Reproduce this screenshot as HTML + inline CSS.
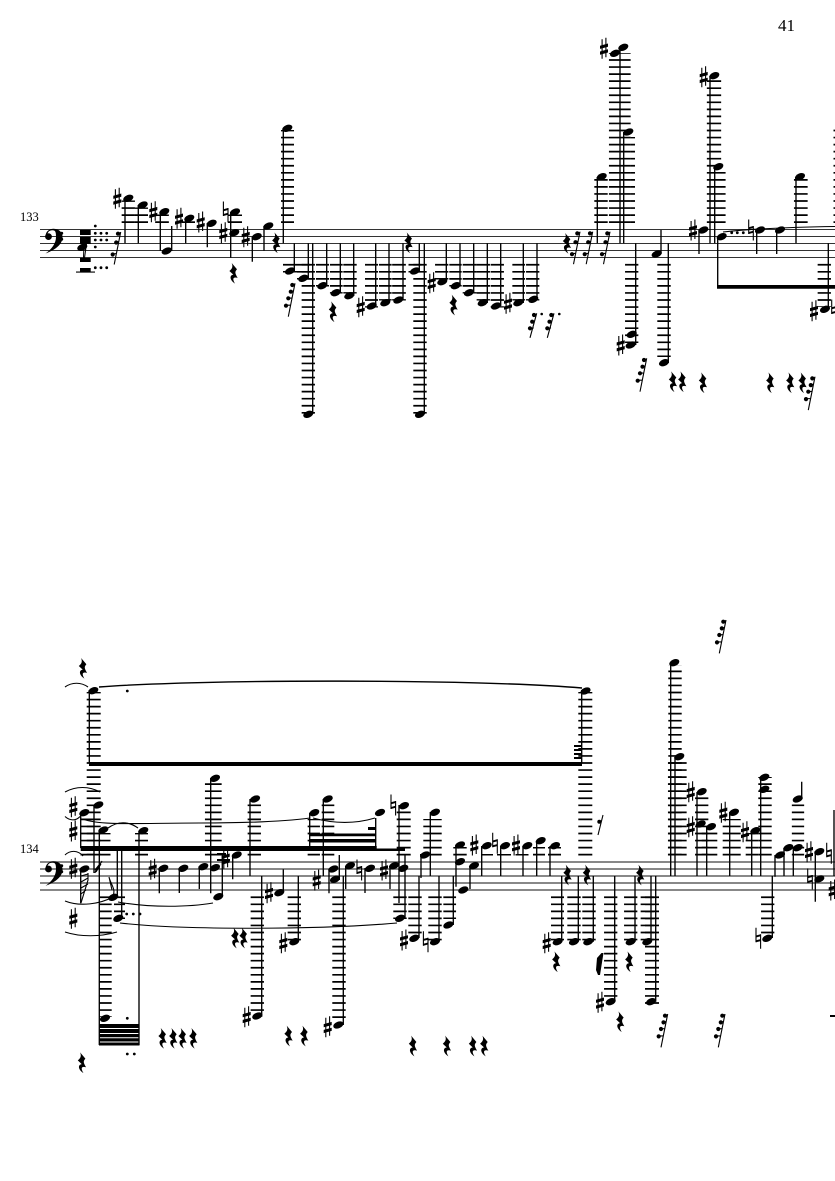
<!DOCTYPE html>
<html><head><meta charset="utf-8"><style>
html,body{margin:0;padding:0;background:#fff}
svg{display:block}
text{font-family:"Liberation Serif",serif;fill:#000}
</style></head><body>
<svg width="835" height="1181" viewBox="0 0 835 1181" xmlns="http://www.w3.org/2000/svg">
<defs>
<ellipse id="n" rx="5.3" ry="3.3" transform="rotate(-22)"/>
<g id="s"><path d="M-1.9-9V10.5M1.9-10.5V9" stroke="#000" stroke-width="1.1" fill="none"/><path d="M-4-2.6L4-4.8V-1.6L-4 .6ZM-4 3.2L4 1V4.2L-4 6.4Z"/></g>
<g id="t"><path d="M-2.3-10.5V4M2.3-4V10.5" stroke="#000" stroke-width="1.1" fill="none"/><path d="M-2.3-2.8L2.3-4V-2L-2.3-.8ZM-2.3 2L2.3.8V2.8L-2.3 4Z"/></g>
<path id="r" transform="scale(1.15)" d="M-1.4-9L3.2-3.5C1.5-1.5 1-.5 3.8 4C.5 3-1.5 4 1.5 9C-2.6 6.5-4 2 0 1.2L-3.4-2C-.8-4-.2-6-1.4-9Z"/>
<g id="r4"><path d="M0 0L-6.7 33.4M-2.7 1L-.3.8M-4 8L-1.7 7.6M-6.7 15L-3 14.6M-9 22L-4.5 21.8" stroke="#000" stroke-width="1.1" fill="none"/><circle cx="-2.7" cy="1.7" r="2.1"/><circle cx="-4.2" cy="8.4" r="2.1"/><circle cx="-6.7" cy="15" r="2.1"/><circle cx="-9" cy="22.4" r="2.1"/></g>
<g id="r3"><path d="M0 0L-6.5 32.5M-2.7 1L-.3.8M-4.5 10L-2 9.6M-8 22L-4.5 21.6" stroke="#000" stroke-width="1.1" fill="none"/><circle cx="-2.7" cy="1.7" r="2.1"/><circle cx="-4.5" cy="10.5" r="2.1"/><circle cx="-8" cy="22.5" r="2.1"/></g>
<g id="q3"><path d="M0 0L-6.7 24.5M-2.7 1L-.3.8M-4 8L-1.7 7.6M-6.7 15L-3 14.6" stroke="#000" stroke-width="1.1" fill="none"/><circle cx="-2.7" cy="1.7" r="2.1"/><circle cx="-4.5" cy="8.4" r="2.1"/><circle cx="-6.7" cy="15" r="2.1"/></g>
<g id="c"><circle cx="48.5" cy="236.6" r="3.4"/><path d="M45.6 236C45.6 231 50 228.8 53.5 228.8C59.5 228.8 63 233 62.5 238C62 245 54 250.5 45.5 253.5C52 249 56 243 56 237C56 232 55.5 230.2 52.5 230.2C49 230.2 47.5 232 47 236Z"/><circle cx="61.7" cy="233.3" r="1.5"/><circle cx="61.7" cy="239.3" r="1.5"/></g>
</defs>

<text x="778" y="31" font-size="17">41</text>
<text x="20" y="221" font-size="12.5">133</text>
<text x="20" y="853" font-size="12.5">134</text>

<path d="M40 229.5H835M40 236.5H835M40 243.5H835M40 250.5H835M40 257.5H835" stroke="#333" stroke-width="1.1" fill="none"/>
<path d="M40 862H835M40 869H835M40 876H835M40 883H835M40 890H835" stroke="#606060" stroke-width="1.6" fill="none"/>
<use href="#c"/><use href="#c" y="632.4"/>

<!-- ledgers -->
<g stroke="#000" stroke-dasharray="1.7 5.35" fill="none">
<path d="M128.3 223V200.5" stroke-width="13.3"/><path d="M141.5 223V207.5" stroke-width="13"/><path d="M162 223V214.5" stroke-width="13.7"/><path d="M188.5 223V221" stroke-width="13"/><path d="M235 223V214.5" stroke-width="14"/><path d="M287.5 223V130" stroke-width="13"/><path d="M601 223V179" stroke-width="13.4"/><path d="M619.8 223V53" stroke-width="21.7"/><path d="M632.8 223V137" stroke-width="4.4"/><path d="M714 223V79" stroke-width="14.3"/><path d="M723.3 223V169" stroke-width="4.6"/><path d="M800.8 223V179" stroke-width="13.7"/><path d="M834.5 223V129" stroke-width="2"/>
<path d="M290 263.9V272.5" stroke-width="14"/><path d="M303.5 263.9V279.5" stroke-width="13"/><path d="M308.3 263.9V415" stroke-width="13.3"/><path d="M322.5 263.9V286.5" stroke-width="13"/><path d="M336.3 263.9V293.5" stroke-width="12.7"/><path d="M350 263.9V293.5" stroke-width="13.4"/><path d="M371.5 263.9V307.5" stroke-width="13"/><path d="M385.3 263.9V300.5" stroke-width="12.7"/><path d="M399 263.9V300.5" stroke-width="13.7"/><path d="M415 263.9V272.5" stroke-width="13"/><path d="M420 263.9V415" stroke-width="13.4"/><path d="M441.7 263.9V279.5" stroke-width="13.3"/><path d="M455.5 263.9V286.5" stroke-width="12.4"/><path d="M469.7 263.9V293.5" stroke-width="14"/><path d="M483.3 263.9V300.5" stroke-width="13.3"/><path d="M497.3 263.9V307.5" stroke-width="13.3"/><path d="M518.7 263.9V300.5" stroke-width="12.7"/><path d="M532.7 263.9V300.5" stroke-width="13.3"/><path d="M631.7 263.9V343" stroke-width="13.3"/><path d="M664 263.9V357" stroke-width="13.4"/><path d="M824.3 263.9V307" stroke-width="13.3"/>
<path d="M93.7 855.5V692" stroke-width="14"/><path d="M87 855.5V815" stroke-width="13"/><path d="M105 855.5V833" stroke-width="11"/><path d="M141.5 855.5V833" stroke-width="13"/><path d="M213.3 855.5V779" stroke-width="16.7"/><path d="M254.3 855.5V802" stroke-width="13.3"/><path d="M313.8 855.5V819" stroke-width="12.3"/><path d="M328 855.5V802" stroke-width="12.6"/><path d="M403.7 855.5V808" stroke-width="14"/><path d="M432.5 855.5V819" stroke-width="18.4"/><path d="M425 855.5V854" stroke-width="10"/><path d="M460 855.5V847" stroke-width="13.4"/><path d="M487 855.5V854" stroke-width="12"/><path d="M504 855.5V854" stroke-width="14"/><path d="M522 855.5V854" stroke-width="13"/><path d="M539 855.5V847" stroke-width="12"/><path d="M554.5 855.5V847" stroke-width="13"/><path d="M585.3 855.5V692" stroke-width="14"/><path d="M675 855.5V665" stroke-width="13.4"/><path d="M677.3 855.5V757" stroke-width="18.7"/><path d="M701.7 855.5V795" stroke-width="13.3"/><path d="M709.5 855.5V829" stroke-width="15.6"/><path d="M731.7 855.5V819" stroke-width="18"/><path d="M752 855.5V833" stroke-width="12.6"/><path d="M765 855.5V777" stroke-width="13.4"/><path d="M798 855.5V802" stroke-width="12.3"/>
<path d="M105.5 896.4V1017" stroke-width="12.4"/><path d="M119.5 896.4V919" stroke-width="11"/><path d="M257.3 896.4V1012" stroke-width="13.3"/><path d="M294.3 896.4V941" stroke-width="13.3"/><path d="M339 896.4V1021" stroke-width="13.4"/><path d="M400 896.4V919" stroke-width="13.4"/><path d="M415 896.4V934" stroke-width="13.4"/><path d="M435 896.4V941" stroke-width="13.4"/><path d="M449.7 896.4V919" stroke-width="12.7"/><path d="M557.5 896.4V941" stroke-width="13"/><path d="M574 896.4V941" stroke-width="13.4"/><path d="M589 896.4V941" stroke-width="13.4"/><path d="M610.7 896.4V997" stroke-width="13.3"/><path d="M630.7 896.4V941" stroke-width="13.3"/><path d="M647.3 896.4V941" stroke-width="13.3"/><path d="M652 896.4V1004" stroke-width="14"/><path d="M767.7 896.4V934" stroke-width="13.3"/>
</g>

<!-- stems -->
<path stroke="#000" stroke-width="1.35" fill="none" d="M125 198V243.3M138.3 205V243.3M160.3 212V250.7M171.7 251V226M185.7 218V243.3M207.3 223V247.3M230.7 212V257.7M252.3 237V261.7M264 226V250.7M283.3 128V243.3M294.3 271V243.3M308.3 278V243.3M312.7 414V243.3M326.7 286V243.3M340.3 293V243.3M353.7 296V243.3M375.7 306V243.3M389 303V243.3M403 300V243.3M419.3 271V243.3M424.3 414V243.3M446.3 282V243.3M460 286V243.3M473.7 293V243.3M487.3 303V243.3M500.7 306V243.3M523.3 303V243.3M537 299V243.3M597.3 177V243.3M620 50V243.3M623.7 132V243.3M635.7 345V243.3M661 254V230M668.3 363V243.3M699 230V254M710 76V243.3M714.7 167V243.3M717.7 237V287M756.7 230V254M776.7 230V254M796 177V243.3M828.3 309V243.3
M89.3 690V763M80.7 812.7V848M80.7 869V903.3M94 805V873M99.3 830V1045M139 830.7V1045M117.3 850V897M121.7 850V918M159.3 868V893.3M179.3 868V893M199.3 866V889M210.7 778V893.3M222.3 896.7V853M232.7 855V879.3M250 799V876M261.7 876V1016.7M283.3 892.7V869.3M298.3 876V941.7M309.7 812.7V848M323.3 799V876M329 869V893.3M339.3 855V880M343.3 876V1025M345.7 866V889M365 868V893M375.7 818V848M390 866V889M399 805V903M405 855V918M419 876V938M421 855V878M430.3 812V876M439 876V941.7M453.3 876V925M456 845V886.7M470 866V889M481.7 846V876M500.7 846V876M523 846V876M536.7 841V876M550 846V876M561.7 876V941.7M578.3 876V941.7M581.7 690V763M593.3 876V941.7M614.7 876V1001.7M635 876V941.7M651 876V941.7M655.7 876V1001.7M670.7 662V876M675 757V876M697 792V876M706.7 827V876M729.7 812V876M751.7 831V876M760.7 777V876M772.3 876V938M775 855V876.7M784 848V876M793.3 848V876M801.7 799V781.7M815.3 851V901.7M834 810V876"/>

<!-- beams -->
<path d="M717 285H835V288.7H717ZM89 762H582V766H89ZM80.7 846H376.7V851H80.7ZM376 848.5H405V851H376ZM309.7 833.5H375.7V836.3H309.7ZM309.7 839H375.7V842.5H309.7ZM368 827H375.7V830H368ZM99 1024H139.5V1028H99ZM99 1029H139.5V1033H99ZM99 1034H139.5V1037.3H99ZM99 1038.3H139.5V1041.5H99ZM99 1042.5H139.5V1045.5H99ZM574 745H582V747H574ZM574 749H582V751H574ZM574 753H582V755H574ZM574 757H582V759H574ZM217 853H226V855H217ZM217 859H230V861H217ZM830 1015H835V1017H830Z"/>

<!-- ties -->
<g fill="none" stroke="#000" stroke-width="1.1">
<path d="M723 232C760 228 800 227 835 226.5"/>
<path d="M99 687C200 679 480 679 582 688" stroke-width="1.4"/>
<path d="M65 687C72 682 81 682 88 687M65 792C76 786 89 786 100 792M65 816.5C70 821 76 821 80 816.5M83 819C100 826 140 823 200 823C240 823 280 822 310 818M313 818C335 824 355 824 375 818M108 828C118 821 128 821 138 828M65 855C70 850 78 850 83 856M65 901C80 907 100 904 113 897M118 902C150 908 190 907 213 903M65 932C80 937 100 937 117 932M120 923C180 930 320 930 397 923"/>
</g>

<!-- hatched flags -->
<path fill="none" stroke="#000" stroke-width="1.1" d="M88 873V880L81 903M81 876L88 874M81 882L88 878M81 888L88 884M81 894L86 890M95 873C96 868 100 865 102 861M96 872L101 864M95 870L99 865M109 877C111 885 116 889 113 896M109 877L112 890"/>

<!-- staff 1 breves etc -->
<path d="M80 230H90.7V235H80ZM80 237H90.7V244H80ZM80 258H90.7V262H80ZM80 268H90.7V272H80ZM76 271.5H95V272.6H76ZM83.5 244L85 258H83ZM85 244L87 244L85 258Z"/>
<g><circle cx="95.3" cy="226" r="1.4"/><circle cx="95.3" cy="233.3" r="1.4"/><circle cx="101" cy="233.3" r="1.4"/><circle cx="106.7" cy="233.3" r="1.4"/><circle cx="95.3" cy="240" r="1.4"/><circle cx="101" cy="240" r="1.4"/><circle cx="106.7" cy="240" r="1.4"/><circle cx="95.3" cy="247" r="1.4"/><circle cx="95.3" cy="267.7" r="1.4"/><circle cx="101" cy="267.7" r="1.4"/><circle cx="106.7" cy="267.7" r="1.4"/><circle cx="541.7" cy="314" r="1.3"/><circle cx="559.3" cy="314" r="1.3"/><circle cx="731.7" cy="232.7" r="1.4"/><circle cx="737.3" cy="232.7" r="1.4"/><circle cx="743.3" cy="232.7" r="1.4"/><circle cx="127.3" cy="691" r="1.4"/><circle cx="126.7" cy="914" r="1.4"/><circle cx="133.3" cy="914" r="1.4"/><circle cx="140" cy="914" r="1.4"/><circle cx="127.3" cy="1018.3" r="1.4"/><circle cx="127.3" cy="1054" r="1.4"/><circle cx="134.3" cy="1054" r="1.4"/></g>

<!-- heads staff 1 -->
<use href="#n" x="82.3" y="247.3"/><use href="#n" x="128.3" y="198.3"/><use href="#n" x="142.7" y="205"/><use href="#n" x="164.3" y="211.7"/><use href="#n" x="166.7" y="251"/><use href="#n" x="189.3" y="218.3"/><use href="#n" x="211.7" y="223.3"/><use href="#n" x="235" y="212"/><use href="#n" x="234.3" y="232.7"/><use href="#n" x="256.7" y="236.7"/><use href="#n" x="268.3" y="226"/><use href="#n" x="287.3" y="128.3"/><use href="#n" x="290" y="271"/><use href="#n" x="303.3" y="278.3"/><use href="#n" x="308.3" y="414.3"/><use href="#n" x="322.3" y="285.7"/><use href="#n" x="335.7" y="292.7"/><use href="#n" x="349.3" y="295.7"/><use href="#n" x="371.7" y="306"/><use href="#n" x="385.3" y="302.7"/><use href="#n" x="398.3" y="300"/><use href="#n" x="415" y="271"/><use href="#n" x="420" y="414.3"/><use href="#n" x="442.3" y="281.7"/><use href="#n" x="455.7" y="285.7"/><use href="#n" x="469" y="292.7"/><use href="#n" x="482.7" y="302.7"/><use href="#n" x="496" y="306"/><use href="#n" x="518.3" y="302.7"/><use href="#n" x="533.3" y="299.3"/><use href="#n" x="601.7" y="176.7"/><use href="#n" x="623.3" y="47.3"/><use href="#n" x="615" y="53.3"/><use href="#n" x="628.3" y="132"/><use href="#n" x="631.7" y="334.3"/><use href="#n" x="630.7" y="345"/><use href="#n" x="656.7" y="254"/><use href="#n" x="664" y="362.7"/><use href="#n" x="703.3" y="230"/><use href="#n" x="714.3" y="75.7"/><use href="#n" x="718.3" y="166.7"/><use href="#n" x="721.7" y="236.7"/><use href="#n" x="760" y="230"/><use href="#n" x="780" y="230"/><use href="#n" x="800" y="176.7"/><use href="#n" x="825" y="309.3"/>

<!-- heads staff 2 -->
<use href="#n" x="93.3" y="690.7"/><use href="#n" x="84.3" y="812.7"/><use href="#n" x="98.3" y="805"/><use href="#n" x="84.3" y="869"/><use href="#n" x="103.3" y="830"/><use href="#n" x="143.3" y="830.7"/><use href="#n" x="113.3" y="897.3"/><use href="#n" x="118.3" y="918.3"/><use href="#n" x="105" y="1018.3"/><use href="#n" x="163.3" y="868.3"/><use href="#n" x="183.3" y="868.3"/><use href="#n" x="203.3" y="866.7"/><use href="#n" x="215" y="778.3"/><use href="#n" x="215" y="867.7"/><use href="#n" x="218.3" y="896.7"/><use href="#n" x="236.7" y="855"/><use href="#n" x="255" y="799"/><use href="#n" x="257.3" y="1016"/><use href="#n" x="279.3" y="892.7"/><use href="#n" x="294.3" y="941.7"/><use href="#n" x="314.3" y="812.7"/><use href="#n" x="327.7" y="799"/><use href="#n" x="333.3" y="869"/><use href="#n" x="335" y="879.3"/><use href="#n" x="350" y="865.7"/><use href="#n" x="338.3" y="1025"/><use href="#n" x="370" y="868.3"/><use href="#n" x="380" y="812.5"/><use href="#n" x="394" y="865.7"/><use href="#n" x="403.3" y="868.3"/><use href="#n" x="404" y="805.7"/><use href="#n" x="400" y="918.3"/><use href="#n" x="414.3" y="938.3"/><use href="#n" x="425" y="855"/><use href="#n" x="435" y="812.3"/><use href="#n" x="435" y="941.7"/><use href="#n" x="448.3" y="925"/><use href="#n" x="460" y="845"/><use href="#n" x="460" y="861.7"/><use href="#n" x="463.3" y="890"/><use href="#n" x="474" y="865.7"/><use href="#n" x="486.7" y="845.7"/><use href="#n" x="505" y="845.7"/><use href="#n" x="527.3" y="845.7"/><use href="#n" x="540.7" y="840.7"/><use href="#n" x="555" y="845.7"/><use href="#n" x="557.7" y="941.7"/><use href="#n" x="574" y="941.7"/><use href="#n" x="588.3" y="941.7"/><use href="#n" x="585.5" y="691"/><use href="#n" x="610.7" y="1001.7"/><use href="#n" x="630.7" y="941.7"/><use href="#n" x="647.3" y="941.7"/><use href="#n" x="651" y="1001.7"/><use href="#n" x="674.3" y="662.7"/><use href="#n" x="679.3" y="756.7"/><use href="#n" x="701.7" y="791.7"/><use href="#n" x="700.7" y="824"/><use href="#n" x="711" y="826.7"/><use href="#n" x="734" y="812.3"/><use href="#n" x="755.3" y="830.7"/><use href="#n" x="764.3" y="777.3"/><use href="#n" x="764.3" y="789.3"/><use href="#n" x="797.7" y="799"/><use href="#n" x="780" y="855"/><use href="#n" x="788.3" y="847.7"/><use href="#n" x="797.7" y="847.7"/><use href="#n" x="767.3" y="938.3"/><use href="#n" x="819.3" y="851.7"/><use href="#n" x="819.3" y="879"/>

<!-- sharps -->
<use href="#s" x="117.3" y="198.3"/><use href="#s" x="153.3" y="211.7"/><use href="#s" x="179" y="218.3"/><use href="#s" x="200.7" y="222"/><use href="#s" x="223.3" y="232.7"/><use href="#s" x="245.7" y="236.7"/><use href="#s" x="360.7" y="306.7"/><use href="#s" x="431.7" y="282.7"/><use href="#s" x="508" y="303.3"/><use href="#s" x="604" y="48.3"/><use href="#s" x="620.7" y="345"/><use href="#s" x="693" y="230"/><use href="#s" x="703.7" y="76.7"/><use href="#s" x="814" y="310.7"/>
<use href="#s" x="73.3" y="806.7"/><use href="#s" x="73.3" y="831"/><use href="#s" x="73.3" y="868.3"/><use href="#s" x="73.3" y="918.3"/><use href="#s" x="152.7" y="869.3"/><use href="#s" x="225.7" y="858.3"/><use href="#s" x="246.7" y="1016.7"/><use href="#s" x="269" y="892.7"/><use href="#s" x="283.3" y="942.7"/><use href="#s" x="316.7" y="880"/><use href="#s" x="327.7" y="1026.7"/><use href="#s" x="384" y="870"/><use href="#s" x="404" y="940"/><use href="#s" x="474.3" y="845"/><use href="#s" x="516" y="845"/><use href="#s" x="546.7" y="942.7"/><use href="#s" x="600" y="1002.3"/><use href="#s" x="690.7" y="791.7"/><use href="#s" x="690.7" y="826.7"/><use href="#s" x="723.3" y="812.3"/><use href="#s" x="745" y="831.7"/><use href="#s" x="809" y="851.7"/><use href="#s" x="832.7" y="890"/>

<!-- naturals -->
<use href="#t" x="225.7" y="212"/><use href="#t" x="751" y="230"/><use href="#t" x="834" y="310"/><use href="#t" x="359.3" y="870"/><use href="#t" x="393.3" y="805"/><use href="#t" x="425.7" y="941.7"/><use href="#t" x="495" y="843.3"/><use href="#t" x="758.3" y="938.3"/><use href="#t" x="810" y="879"/><use href="#t" x="829" y="853.3"/>

<!-- rests -->
<use href="#r" x="233.3" y="273.3"/><use href="#r" x="276" y="242.7"/><use href="#r" x="332.7" y="311.7"/><use href="#r" x="408.3" y="242.7"/><use href="#r" x="453.3" y="305"/><use href="#r" x="566.7" y="243.3"/><use href="#r" x="672.7" y="381.7"/><use href="#r" x="682" y="381.7"/><use href="#r" x="702.7" y="382.7"/><use href="#r" x="770" y="382.7"/><use href="#r" x="790" y="382.7"/><use href="#r" x="802.3" y="382.7"/>
<use href="#r" x="82.7" y="668.3"/><use href="#r" x="81.7" y="1062.7"/><use href="#r" x="162.3" y="1038.3"/><use href="#r" x="173" y="1038.3"/><use href="#r" x="182.3" y="1038.3"/><use href="#r" x="193" y="1038.3"/><use href="#r" x="235" y="938"/><use href="#r" x="243.3" y="938"/><use href="#r" x="288.3" y="1036"/><use href="#r" x="304" y="1036"/><use href="#r" x="412.7" y="1046"/><use href="#r" x="446.7" y="1046"/><use href="#r" x="472.7" y="1046"/><use href="#r" x="484" y="1046"/><use href="#r" x="567.3" y="875"/><use href="#r" x="586.7" y="875"/><use href="#r" x="640" y="875"/><use href="#r" x="556" y="961.7"/><use href="#r" x="629" y="961.7"/><use href="#r" x="620" y="1021.7"/>

<!-- small rests -->
<use href="#r3" x="120.7" y="232"/><use href="#r4" x="295" y="283.3"/><use href="#q3" x="536.7" y="313.3"/><use href="#q3" x="554" y="313.3"/><use href="#r3" x="580" y="231.7"/><use href="#r3" x="592.7" y="231.7"/><use href="#r3" x="610" y="231.7"/><use href="#r4" x="646.7" y="358.3"/><use href="#r4" x="815" y="376.7"/><use href="#r4" x="667.7" y="1014"/><use href="#r4" x="725" y="1014"/><use href="#r4" x="726" y="620"/>
<path d="M603 815L598 835" stroke="#000" stroke-width="1.1" fill="none"/><circle cx="599.3" cy="821.7" r="2"/><path d="M601.5 953L603.5 953L600 975L598 975L596 970L597 958Z"/>
</svg>
</body></html>
